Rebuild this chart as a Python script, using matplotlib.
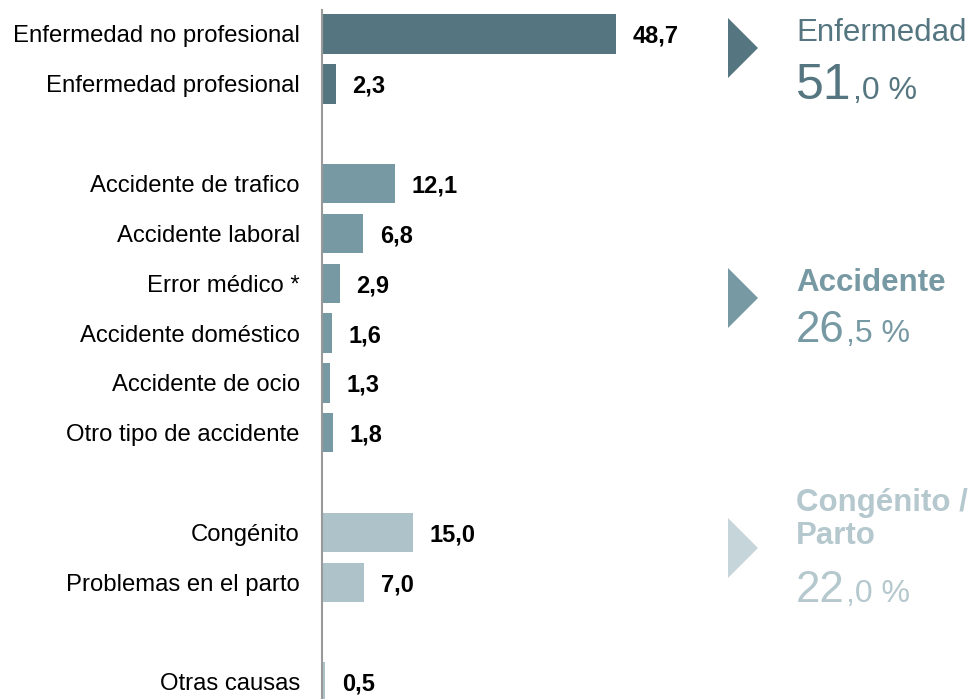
import matplotlib
matplotlib.use("Agg")
import matplotlib.pyplot as plt
from matplotlib.patches import Polygon

plt.rcParams['font.family'] = ['Liberation Sans', 'DejaVu Sans']

# bar data, grouped
categories = ["Enfermedad no profesional", "Enfermedad profesional",
              "Accidente de trafico", "Accidente laboral", "Error médico *",
              "Accidente doméstico", "Accidente de ocio", "Otro tipo de accidente",
              "Congénito", "Problemas en el parto",
              "Otras causas"]
values = [48.7, 2.3, 12.1, 6.8, 2.9, 1.6, 1.3, 1.8, 15.0, 7.0, 0.5]
group_sizes = [2, 6, 2, 1]

# group summary on the right
group_names = [["Enfermedad"], ["Accidente"], ["Congénito /", "Parto"]]
group_int = ["51", "26", "22"]
group_dec = [",0 %", ",5 %", ",0 %"]

dark, mid, light = "#557680", "#7799a3", "#adc3c9"
bar_colors = [dark, mid, light, light]
tri_colors = [dark, mid, "#c6d5da"]
text_colors = [dark, mid, "#b5c8ce"]

W, H = 974, 699
fig = plt.figure(figsize=(W / 100, H / 100), dpi=100)
ax = fig.add_axes([322 / W, 0, 1 - 322 / W, 1])

# row positions: one empty row between groups
ypos, colors = [], []
row = 0
for g, n in enumerate(group_sizes):
    for i in range(n):
        ypos.append(row)
        colors.append(bar_colors[g])
        row += 1
    row += 1

ax.barh(ypos, values, height=0.79, color=colors)
for y, v in zip(ypos, values):
    ax.annotate(f"{v:.1f}".replace(".", ","), (v, y), xytext=(12, 0),
                textcoords="offset points", va="center_baseline", ha="left",
                fontsize=17, fontweight="bold", color="black")

px_per_unit = (616 - 322) / 48.7
px_per_row = (682 - 34) / 13
ax.set_xlim(0, (W - 322) / px_per_unit)
ax.set_ylim(13 + (H - 682) / px_per_row, -34 / px_per_row)
ax.set_yticks(ypos)
ax.set_yticklabels(categories, fontsize=17.2)
ax.tick_params(axis="y", length=0, pad=16)
ax.set_xticks([])
for s in ["top", "right", "bottom"]:
    ax.spines[s].set_visible(False)
ax.spines["left"].set_color("#999999")
ax.spines["left"].set_linewidth(1.5)
ax.spines["left"].set_bounds(13 + (H - 682) / px_per_row, -24 / px_per_row)

# right-hand summary in pixel coordinates
ov = fig.add_axes([0, 0, 1, 1])
ov.set_xlim(0, W)
ov.set_ylim(H, 0)
ov.axis("off")

tri_centers = [48, 298, 548]
label_base = [41, 291, 511]
num_base = [99, 342, 602]
weights = ["normal", "bold", "bold"]
fig.canvas.draw()
renderer = fig.canvas.get_renderer()
for k in range(3):
    c = text_colors[k]
    cy = tri_centers[k]
    ov.add_patch(Polygon([[728, cy - 30], [758, cy], [728, cy + 30]],
                         closed=True, color=tri_colors[k], lw=0))
    for j, line in enumerate(group_names[k]):
        ov.text(796, label_base[k] + 33 * j, line, fontsize=22.5,
                fontweight=weights[k], color=c, va="baseline", ha="left")
    big = ov.text(796, num_base[k], group_int[k],
                  fontsize=36 if k == 0 else 31.5, color=c,
                  va="baseline", ha="left")
    bb = big.get_window_extent(renderer)
    ov.text(bb.x1 + 1, num_base[k], group_dec[k], fontsize=23, color=c,
            va="baseline", ha="left")

fig.savefig("out.png", dpi=100)
